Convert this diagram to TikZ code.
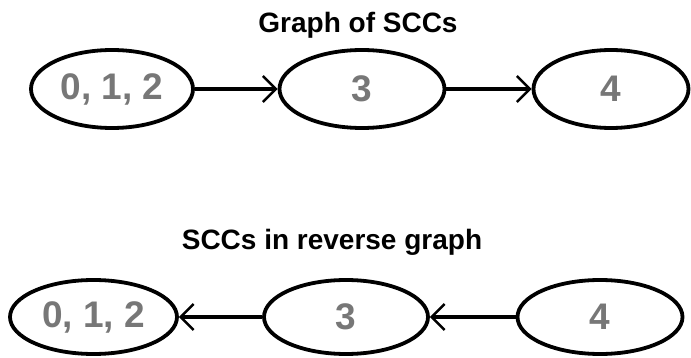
\documentclass[tikz,border=0pt]{standalone}
\usepackage{fontspec}
\setmainfont{Liberation Sans}
\usetikzlibrary{shapes.geometric,arrows.meta}
\definecolor{labelgray}{HTML}{777777}
\tikzset{
  scc/.style={ellipse, draw=black, line width=3.8pt, inner sep=0pt,
    text=labelgray, font=\fontsize{37}{40}\selectfont\bfseries},
  title/.style={anchor=base, text=black, inner sep=0pt,
    font=\fontsize{28}{32}\selectfont\bfseries},
  edge/.style={line width=3.8pt,
    -{Straight Barb[length=13pt,width=26pt,line width=2.4pt]}}
}
\begin{document}
\begin{tikzpicture}[x=1pt,y=-1pt]
\useasboundingbox (0,0) rectangle (691,358);
% top
\node[title] (t1) at (358,33) {Graph of SCCs};
\node[scc, minimum width=162pt, minimum height=78pt] (a1) at (112,89) {0, 1, 2};
\node[scc, minimum width=165pt, minimum height=78pt] (a2) at (362,89) {3};
\node[scc, minimum width=155pt, minimum height=78pt] (a3) at (611,89) {4};
\draw[edge] (a1) -- (a2);
\draw[edge] (a2) -- (a3);
% bottom
\node[title] (t2) at (332,250) {SCCs in reverse graph};
\node[scc, minimum width=167pt, minimum height=74pt] (b1) at (93.5,317) {0, 1, 2};
\node[scc, minimum width=164pt, minimum height=74pt] (b2) at (346,317) {3};
\node[scc, minimum width=165pt, minimum height=74pt] (b3) at (600,317) {4};
\draw[edge] (b3) -- (b2);
\draw[edge] (b2) -- (b1);
\end{tikzpicture}
\end{document}
